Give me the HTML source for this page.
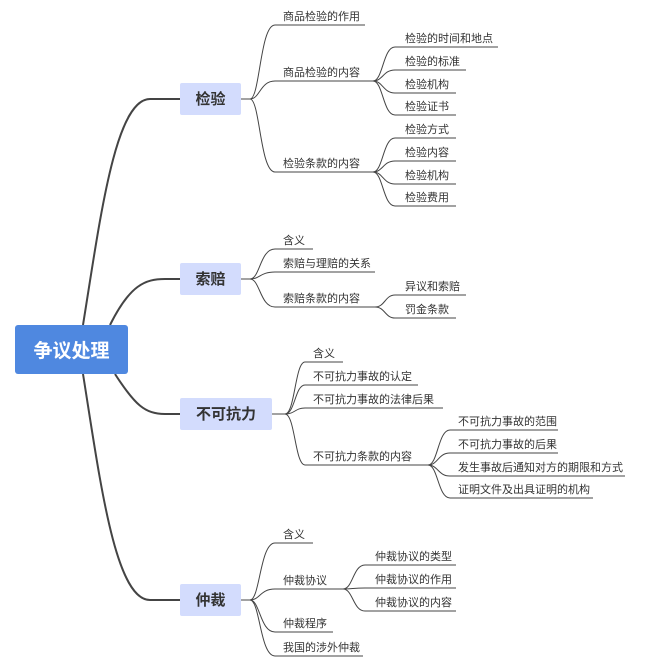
<!DOCTYPE html>
<html><head><meta charset="utf-8"><style>
html,body{margin:0;padding:0;background:#fff;width:665px;height:667px;overflow:hidden}
svg{display:block}
text{font-family:"Liberation Sans","Noto Sans CJK SC",sans-serif;fill:#333}
.l{font-size:11px}
.m{font-size:15px;font-weight:bold;text-anchor:middle}
path.t{fill:none;stroke:#444;stroke-width:1}
path.r{fill:none;stroke:#444;stroke-width:2}
</style></head><body>
<svg width="665" height="667" viewBox="0 0 665 667">
<!-- root connectors -->
<path class="r" d="M83 325 C100 220 115 99 150 99 L180 99"/>
<path class="r" d="M110 325 C130 285 145 279 165 279 L180 279"/>
<path class="r" d="M115 374 C135 405 145 414 165 414 L180 414"/>
<path class="r" d="M83 374 C100 480 115 600 150 600 L180 600"/>
<rect x="15" y="325" width="113" height="49" rx="3" fill="#4f88e0"/>
<text x="71.5" y="357" style="font-size:19px;font-weight:bold;fill:#fff;text-anchor:middle">争议处理</text>

<!-- 检验 -->
<rect x="180" y="83" width="61" height="32" rx="2" fill="#d3dcfd"/>
<text class="m" x="210.5" y="104">检验</text>
<path class="t" d="M241 99 L250 99"/>
<path class="t" d="M250 99 C260 99 260 25 275 25 L365 25"/>
<path class="t" d="M250 99 C260 99 260 81 275 81 L373 81"/>
<path class="t" d="M250 99 C260 99 260 172 275 172 L373 172"/>
<path class="t" d="M373 81 C383 81 383 47 395 47 L498 47"/>
<path class="t" d="M373 81 C383 81 383 70 395 70 L466 70"/>
<path class="t" d="M373 81 C383 81 383 93 395 93 L456 93"/>
<path class="t" d="M373 81 C383 81 383 115 395 115 L456 115"/>
<path class="t" d="M373 172 C383 172 383 138 395 138 L456 138"/>
<path class="t" d="M373 172 C383 172 383 161 395 161 L456 161"/>
<path class="t" d="M373 172 C383 172 383 184 395 184 L456 184"/>
<path class="t" d="M373 172 C383 172 383 206 395 206 L456 206"/>
<text class="l" x="283" y="20">商品检验的作用</text>
<text class="l" x="283" y="76">商品检验的内容</text>
<text class="l" x="283" y="167">检验条款的内容</text>
<text class="l" x="405" y="42">检验的时间和地点</text>
<text class="l" x="405" y="65">检验的标准</text>
<text class="l" x="405" y="88">检验机构</text>
<text class="l" x="405" y="110">检验证书</text>
<text class="l" x="405" y="133">检验方式</text>
<text class="l" x="405" y="156">检验内容</text>
<text class="l" x="405" y="179">检验机构</text>
<text class="l" x="405" y="201">检验费用</text>

<!-- 索赔 -->
<rect x="180" y="263" width="61" height="32" rx="2" fill="#d3dcfd"/>
<text class="m" x="210.5" y="284">索赔</text>
<path class="t" d="M241 279 L250 279"/>
<path class="t" d="M250 279 C260 279 260 249 275 249 L313 249"/>
<path class="t" d="M250 279 C260 279 260 272 275 272 L375 272"/>
<path class="t" d="M250 279 C260 279 260 307 275 307 L375 307"/>
<path class="t" d="M375 307 C385 307 385 295 395 295 L466 295"/>
<path class="t" d="M375 307 C385 307 385 318 395 318 L456 318"/>
<text class="l" x="283" y="244">含义</text>
<text class="l" x="283" y="267">索赔与理赔的关系</text>
<text class="l" x="283" y="302">索赔条款的内容</text>
<text class="l" x="405" y="290">异议和索赔</text>
<text class="l" x="405" y="313">罚金条款</text>

<!-- 不可抗力 -->
<rect x="180" y="398" width="92" height="32" rx="2" fill="#d3dcfd"/>
<text class="m" x="226" y="419">不可抗力</text>
<path class="t" d="M272 414 L285 414"/>
<path class="t" d="M285 414 C295 414 295 362 305 362 L343 362"/>
<path class="t" d="M285 414 C295 414 295 385 305 385 L418 385"/>
<path class="t" d="M285 414 C295 414 295 408 305 408 L443 408"/>
<path class="t" d="M285 414 C295 414 295 465 305 465 L428 465"/>
<path class="t" d="M428 465 C438 465 438 430 450 430 L558 430"/>
<path class="t" d="M428 465 C438 465 438 453 450 453 L558 453"/>
<path class="t" d="M428 465 C438 465 438 476 450 476 L625 476"/>
<path class="t" d="M428 465 C438 465 438 498 450 498 L593 498"/>
<text class="l" x="313" y="357">含义</text>
<text class="l" x="313" y="380">不可抗力事故的认定</text>
<text class="l" x="313" y="403">不可抗力事故的法律后果</text>
<text class="l" x="313" y="460">不可抗力条款的内容</text>
<text class="l" x="458" y="425">不可抗力事故的范围</text>
<text class="l" x="458" y="448">不可抗力事故的后果</text>
<text class="l" x="458" y="471">发生事故后通知对方的期限和方式</text>
<text class="l" x="458" y="493">证明文件及出具证明的机构</text>

<!-- 仲裁 -->
<rect x="180" y="584" width="61" height="32" rx="2" fill="#d3dcfd"/>
<text class="m" x="210.5" y="605">仲裁</text>
<path class="t" d="M241 600 L250 600"/>
<path class="t" d="M250 600 C260 600 260 543 275 543 L313 543"/>
<path class="t" d="M250 600 C260 600 260 589 275 589 L343 589"/>
<path class="t" d="M250 600 C260 600 260 632 275 632 L333 632"/>
<path class="t" d="M250 600 C260 600 260 656 275 656 L363 656"/>
<path class="t" d="M343 589 C353 589 353 565 365 565 L456 565"/>
<path class="t" d="M343 589 C353 589 353 588 365 588 L456 588"/>
<path class="t" d="M343 589 C353 589 353 611 365 611 L456 611"/>
<text class="l" x="283" y="538">含义</text>
<text class="l" x="283" y="584">仲裁协议</text>
<text class="l" x="283" y="627">仲裁程序</text>
<text class="l" x="283" y="651">我国的涉外仲裁</text>
<text class="l" x="375" y="560">仲裁协议的类型</text>
<text class="l" x="375" y="583">仲裁协议的作用</text>
<text class="l" x="375" y="606">仲裁协议的内容</text>
</svg>
</body></html>
